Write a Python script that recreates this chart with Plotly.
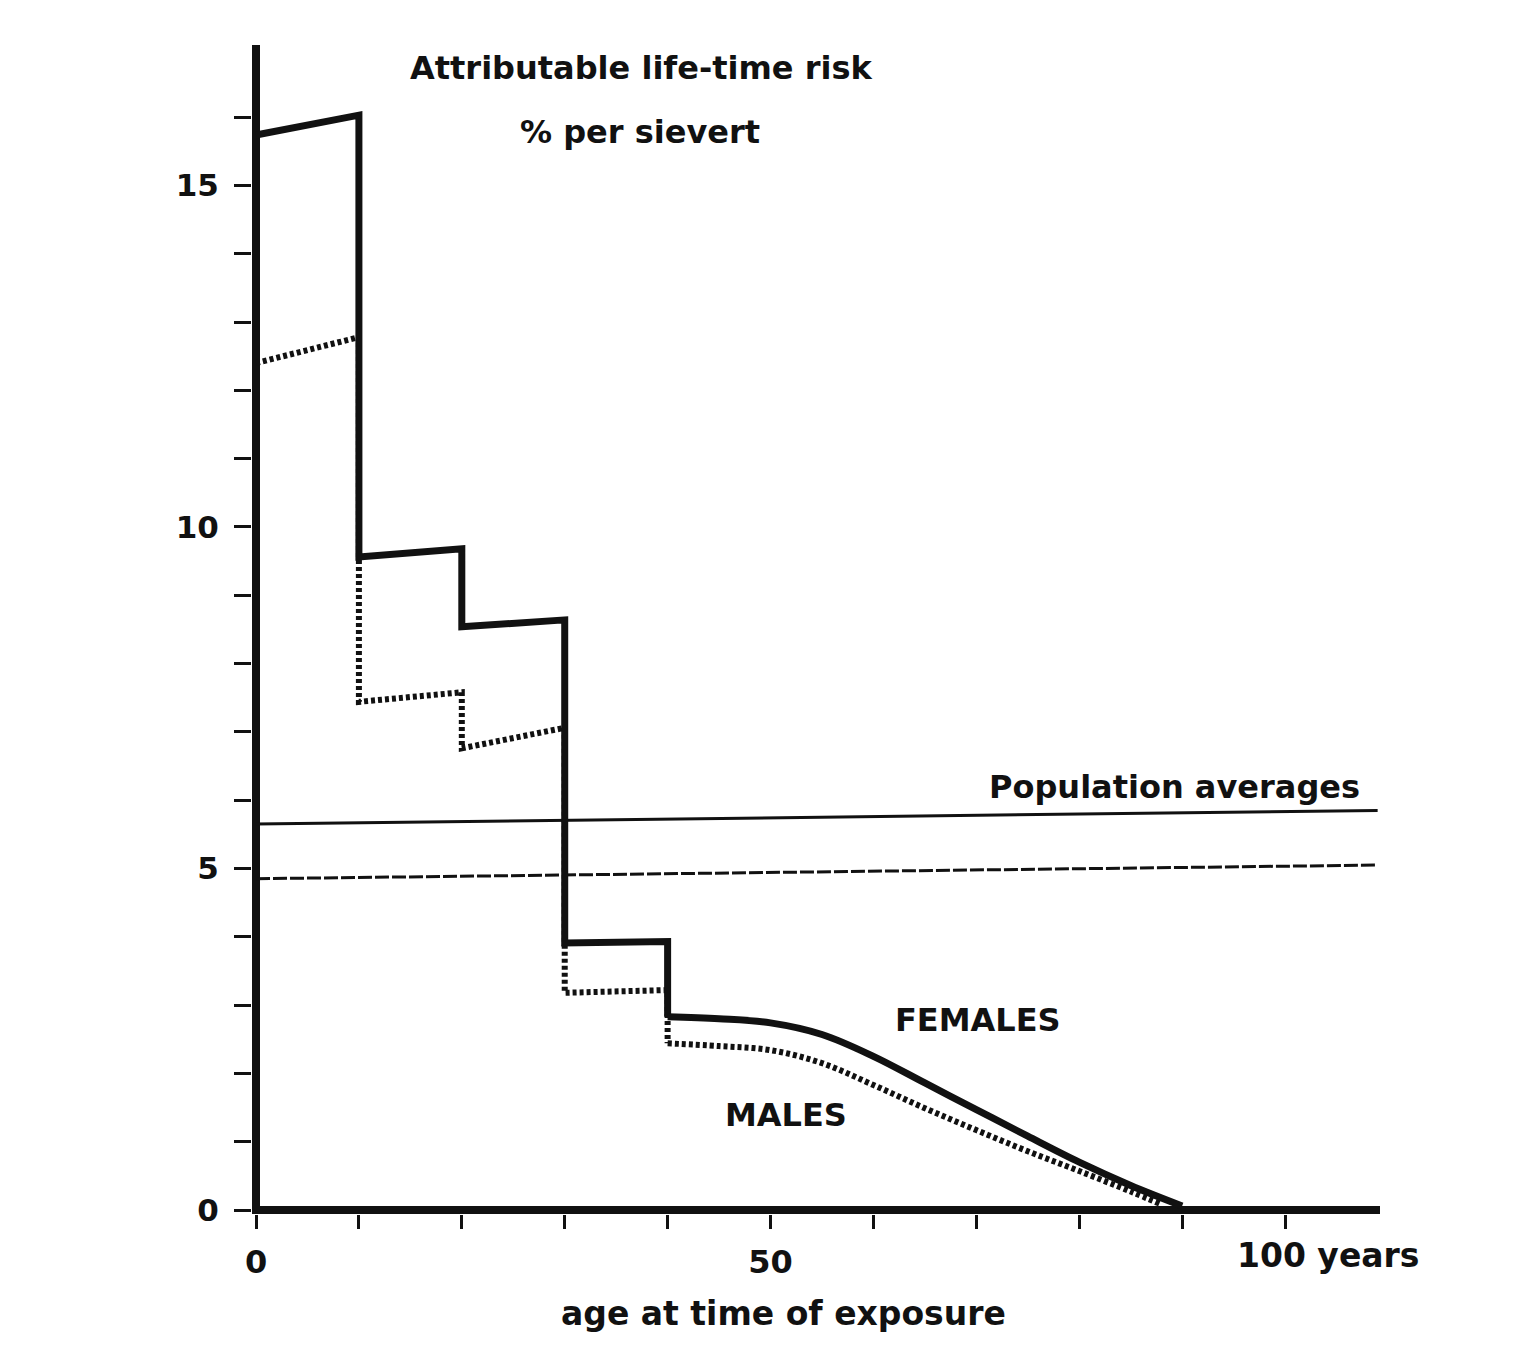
import plotly.graph_objects as go

# ---- data ----
female_step_x = [0, 10, 10, 20, 20, 30, 30, 40, 40]
female_step_y = [15.74, 16.03, 9.56, 9.68, 8.54, 8.64, 3.91, 3.93, 2.83]
female_tail_x = [40, 45, 50, 55, 60, 65, 70, 75, 80, 85, 90]
female_tail_y = [2.83, 2.80, 2.74, 2.57, 2.25, 1.86, 1.47, 1.08, 0.70, 0.36, 0.06]

male_step_x = [0, 10, 10, 20, 20, 30, 30, 40, 40]
male_step_y = [12.40, 12.78, 7.44, 7.58, 6.76, 7.06, 3.18, 3.22, 2.44]
male_tail_x = [40, 45, 50, 55, 60, 65, 70, 75, 80, 85, 88]
male_tail_y = [2.44, 2.40, 2.34, 2.15, 1.83, 1.49, 1.17, 0.86, 0.57, 0.27, 0.08]

pop_x = [0, 109]
pop_female_y = [5.65, 5.85]
pop_male_y = [4.85, 5.05]

x_tickvals = [0, 10, 20, 30, 40, 50, 60, 70, 80, 90, 100]
x_ticktext = ["0", "", "", "", "", "50", "", "", "", "", ""]
y_tickvals = list(range(0, 17))
y_ticktext = [str(v) if v % 5 == 0 else "" for v in y_tickvals]

FONT = "DejaVu Sans"
BLACK = "#111111"

Y_LO, Y_HI = -0.0586, 17.057
X_LO, X_HI = -0.39, 109.23

def ypaper(v):
    return (v - Y_LO) / (Y_HI - Y_LO)

fig = go.Figure()

# population averages
fig.add_trace(go.Scatter(x=pop_x, y=pop_female_y, mode="lines",
                         line=dict(color=BLACK, width=3), showlegend=False))
fig.add_trace(go.Scatter(x=pop_x, y=pop_male_y, mode="lines",
                         line=dict(color=BLACK, width=3, dash="14px,3px"), showlegend=False))

# males (dotted)
fig.add_trace(go.Scatter(x=male_step_x, y=male_step_y, mode="lines",
                         line=dict(color=BLACK, width=6, dash="4px,3px"), showlegend=False))
fig.add_trace(go.Scatter(x=male_tail_x, y=male_tail_y, mode="lines",
                         line=dict(color=BLACK, width=6, dash="4px,3px", shape="spline", smoothing=1.0),
                         showlegend=False))

# females (solid)
fig.add_trace(go.Scatter(x=female_step_x, y=female_step_y, mode="lines",
                         line=dict(color=BLACK, width=7), showlegend=False))
fig.add_trace(go.Scatter(x=female_tail_x, y=female_tail_y, mode="lines",
                         line=dict(color=BLACK, width=7, shape="spline", smoothing=1.0),
                         showlegend=False))

def ann(text, x, y, size=32, paper_y=False):
    fig.add_annotation(text=text, x=x, y=ypaper(y) if paper_y else y,
                       xref="x", yref="paper" if paper_y else "y", showarrow=False,
                       xanchor="center", yanchor="middle",
                       font=dict(family=FONT, size=size, color=BLACK, weight="bold"))

ann("Attributable life-time risk", 37.5, 16.72)
ann("% per sievert", 37.3, 15.78)
ann("Population averages", 89.3, 6.19)
ann("FEMALES", 70.2, 2.78)
ann("MALES", 51.5, 1.39)
ann("100 years", 104.2, -0.66, size=33, paper_y=True)
ann("age at time of exposure", 51.3, -1.51, size=33, paper_y=True)

fig.update_layout(
    width=1523, height=1345,
    margin=dict(l=244, r=151, t=37, b=139),
    paper_bgcolor="white", plot_bgcolor="white",
    font=dict(family=FONT, size=32, color=BLACK, weight="bold"),
    xaxis=dict(range=[X_LO, X_HI], showgrid=False, showline=False,
               zeroline=True, zerolinewidth=8, zerolinecolor=BLACK,
               tickmode="array", tickvals=x_tickvals, ticktext=x_ticktext,
               ticks="outside", ticklen=14, tickwidth=3, tickcolor=BLACK,
               ticklabelstandoff=6,
               tickfont=dict(family=FONT, size=32, color=BLACK, weight="bold")),
    yaxis=dict(range=[Y_LO, Y_HI], showgrid=False, showline=False,
               zeroline=True, zerolinewidth=8, zerolinecolor=BLACK,
               tickmode="array", tickvals=y_tickvals, ticktext=y_ticktext,
               ticks="outside", ticklen=17, tickwidth=3, tickcolor=BLACK,
               ticklabelstandoff=9,
               tickfont=dict(family=FONT, size=31, color=BLACK, weight="bold")),
    showlegend=False,
)

fig.write_html("out.html")
